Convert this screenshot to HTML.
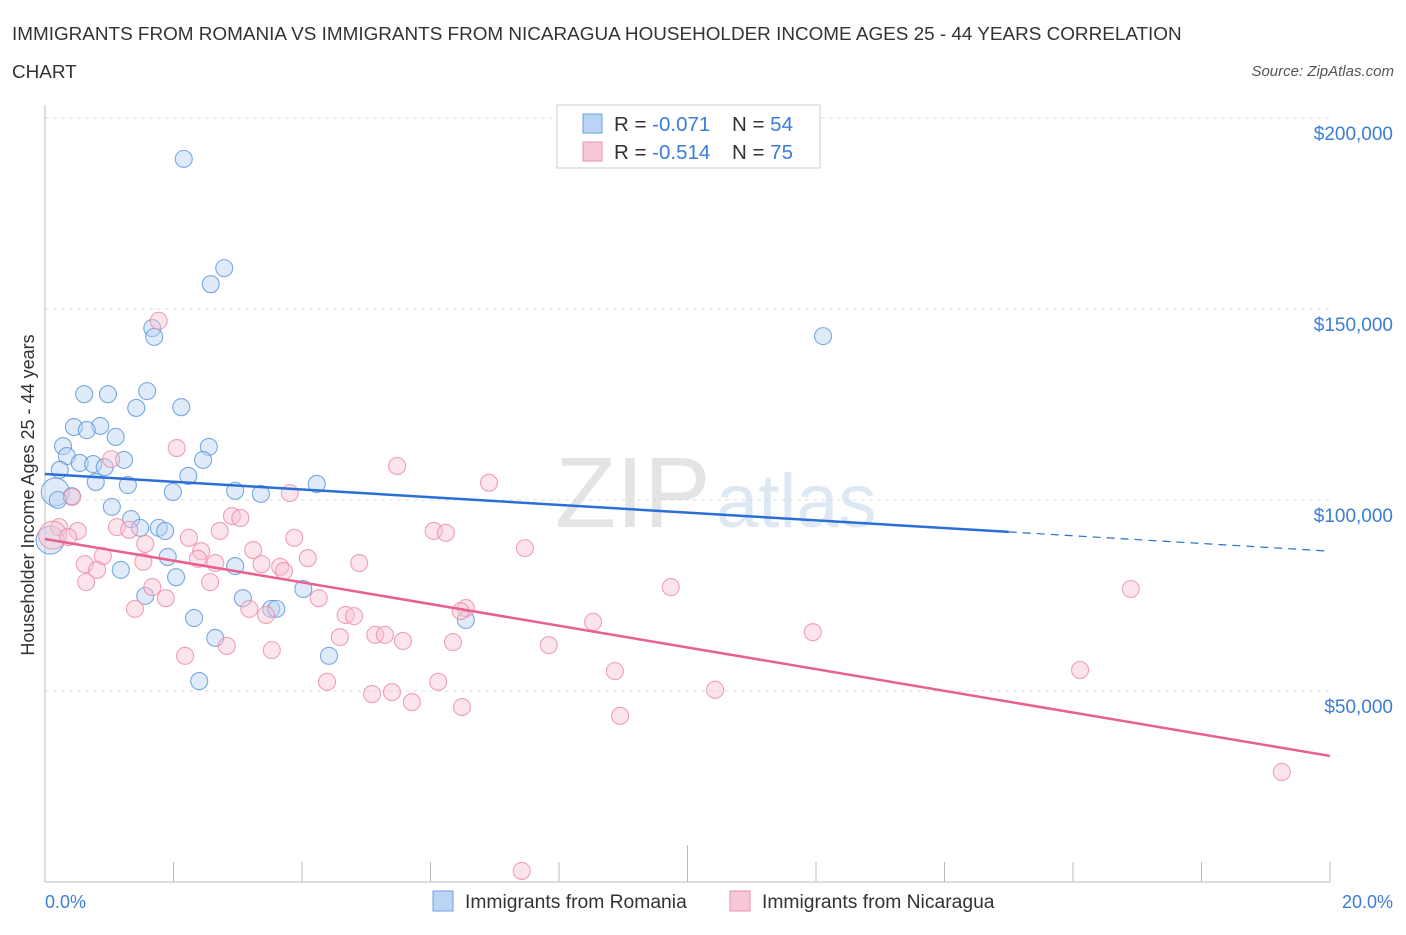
<!DOCTYPE html>
<html><head><meta charset="utf-8"><style>
body{margin:0;background:#fff;font-family:"Liberation Sans",sans-serif;}
svg text{font-family:"Liberation Sans",sans-serif;}
</style></head><body>
<svg width="1406" height="930" viewBox="0 0 1406 930">
<text x="12" y="40" font-size="18.9" fill="#333">IMMIGRANTS FROM ROMANIA VS IMMIGRANTS FROM NICARAGUA HOUSEHOLDER INCOME AGES 25 - 44 YEARS CORRELATION</text>
<text x="12" y="78" font-size="18.9" fill="#333">CHART</text>
<text x="1394" y="76" font-size="15" fill="#555" font-style="italic" text-anchor="end">Source: ZipAtlas.com</text>
<text x="555" y="527" font-size="100" fill="#e4e4e4" font-family="Liberation Serif">ZIP</text>
<text x="716" y="527" font-size="76" fill="#dde8f4">atlas</text>
<g id="grid"></g>
<g id="axes"></g>
<g id="pts"></g>
<g id="lines"></g>
<text transform="translate(34,495) rotate(-90)" font-size="18" fill="#333" text-anchor="middle">Householder Income Ages 25 - 44 years</text>
<text x="45" y="908" font-size="18" fill="#3b7dd8">0.0%</text>
<text x="1393" y="908" font-size="18" fill="#3b7dd8" text-anchor="end">20.0%</text>
<g>
<rect x="557" y="105" width="263" height="63" fill="#fff" stroke="#ccc"/>
<rect x="583" y="114" width="19" height="19" fill="#bcd4f4" stroke="#6a9fe0"/>
<rect x="583" y="142" width="19" height="19" fill="#f9c8d6" stroke="#ec8fab"/>
<text x="614" y="131" font-size="20.5" fill="#333">R = <tspan fill="#3b7dd8">-0.071</tspan><tspan x="732">N = </tspan><tspan fill="#3b7dd8">54</tspan></text>
<text x="614" y="159" font-size="20.5" fill="#333">R = <tspan fill="#3b7dd8">-0.514</tspan><tspan x="732">N = </tspan><tspan fill="#3b7dd8">75</tspan></text>
</g>
<g>
<rect x="433" y="891" width="20" height="20" fill="#bcd4f4" stroke="#6a9fe0"/>
<text x="465" y="908" font-size="19.3" fill="#333">Immigrants from Romania</text>
<rect x="730" y="891" width="20" height="20" fill="#f9c8d6" stroke="#ec8fab"/>
<text x="762" y="908" font-size="19.3" fill="#333">Immigrants from Nicaragua</text>
</g>
</svg>
<script>
const yTicks=[50,100,150,200];
const yTickLabels=["$50,000","$100,000","$150,000","$200,000"];
const xTicks=[0,2,4,6,8,10,12,14,16,18,20];
const romaniaX=[2.16,2.79,2.58,1.67,1.70,12.11,0.61,0.98,1.59,1.42,2.12,0.28,0.45,0.86,0.65,1.10,2.55,0.34,0.54,0.75,0.93,1.23,2.46,0.23,2.23,0.79,1.29,4.23,0.16,1.99,2.96,3.36,0.42,1.04,1.34,1.48,1.77,1.87,0.08,1.91,1.18,2.96,2.04,1.56,3.08,4.02,3.52,3.60,2.32,6.55,2.65,4.42,2.40,0.2];
const romaniaY=[189.3,160.7,156.5,145,142.7,142.9,127.7,127.7,128.5,124.1,124.3,114.1,119.1,119.4,118.3,116.5,113.9,111.5,109.7,109.4,108.6,110.5,110.5,107.9,106.3,104.7,103.9,104.2,102.1,102.1,102.4,101.6,101.0,98.2,95.0,92.7,92.7,91.9,89.5,85.1,81.7,82.7,79.8,74.9,74.3,76.7,71.5,71.5,69.1,68.6,63.9,59.2,52.6,100];
const romaniaBig=[0,0,0,0,0,0,0,0,0,0,0,0,0,0,0,0,0,0,0,0,0,0,0,0,0,0,0,0,1,0,0,0,0,0,0,0,0,0,1,0,0,0,0,0,0,0,0,0,0,0,0,0,0,0];
const nicaraguaX=[1.77,2.05,5.48,6.91,1.03,0.42,3.81,2.91,3.04,1.12,0.22,0.51,2.72,6.05,6.24,1.31,0.12,0.36,2.24,3.88,1.56,7.47,0.90,2.43,3.24,4.09,0.62,1.53,2.65,3.37,3.66,4.89,2.38,0.81,3.72,0.64,2.57,1.67,9.74,16.90,1.88,4.26,1.40,3.18,3.44,4.68,4.81,6.55,6.47,8.53,5.14,5.29,4.59,5.57,6.35,11.95,7.84,2.83,2.18,3.53,8.87,16.11,4.39,6.12,10.43,5.09,5.40,5.71,6.49,8.95,19.25,7.42];
const nicaraguaY=[146.9,113.6,108.9,104.5,110.7,100.8,101.8,95.8,95.3,92.9,92.9,91.9,91.9,91.9,91.4,92.2,90.8,90.3,90.1,90.1,88.5,87.4,85.3,86.6,86.9,84.8,83.2,83.8,83.5,83.2,82.5,83.5,84.6,81.7,81.4,78.5,78.5,77.2,77.2,76.7,74.3,74.3,71.5,71.5,69.9,69.9,69.6,71.7,70.9,68.1,64.7,64.7,64.1,63.1,62.8,65.4,62.0,61.8,59.2,60.7,55.2,55.5,52.4,52.4,50.3,49.2,49.7,47.1,45.8,43.5,28.8,2.9];
const romaniaTrend=[106.8,86.6];
const nicaraguaTrend=[89.8,33.0];
const NS="http://www.w3.org/2000/svg";
function sx(v){return 45+v/20*1285;}
function sy(v){return 882-v/50*191;}
function mk(tag,attrs,parent){const e=document.createElementNS(NS,tag);for(const k in attrs)e.setAttribute(k,attrs[k]);document.getElementById(parent).appendChild(e);return e;}
yTicks.forEach((t,i)=>{
 const l=mk('line',{x1:45,x2:1330,y1:sy(t),y2:sy(t),stroke:'#ddd','stroke-dasharray':'4,4'},'grid');
 
 
 const tx=mk('text',{x:1393,y:sy(t)+22,'font-size':19,fill:'#3b7dd8','text-anchor':'end'},'grid');
 tx.textContent=yTickLabels[i];
 
 
});
const ax=mk('line',{x1:45,x2:45,y1:105,y2:882,stroke:'#bbb'},'axes');


const bx=mk('line',{x1:45,x2:1330,y1:882,y2:882,stroke:'#bbb'},'axes');


xTicks.forEach(t=>{
 const e=mk('line',{x1:sx(t),x2:sx(t),y1:t===10?845:862,y2:882,stroke:'#bbb'},'axes');
 
 
});
function pts(X,Y,B,fill,stroke,name){
 X.forEach((x,i)=>{
  const c=mk('circle',{cx:sx(x),cy:sy(Y[i]),r:B&&B[i]?14:8.5,fill:fill,'fill-opacity':0.45,stroke:stroke,'stroke-opacity':0.8,'stroke-width':1.1},'pts');
  
  
 });
}
pts(romaniaX,romaniaY,romaniaBig,'#b8d2f2','#5b93dc','romania-point');
const nb=nicaraguaX.map((x,i)=>i===16?1:0);
pts(nicaraguaX,nicaraguaY,nb,'#f8c4d3','#ec8aa8','nicaragua-point');
const rs=t=>romaniaTrend[0]+(romaniaTrend[1]-romaniaTrend[0])*t/20;
const l1=mk('line',{x1:sx(0),y1:sy(rs(0)),x2:sx(15),y2:sy(rs(15)),stroke:'#2a6fd6','stroke-width':2.5},'lines');


const l2=mk('line',{x1:sx(15),y1:sy(rs(15)),x2:sx(20),y2:sy(rs(20)),stroke:'#2a6fd6','stroke-width':1.2,'stroke-dasharray':'8,6'},'lines');


const l3=mk('line',{x1:sx(0),y1:sy(nicaraguaTrend[0]),x2:sx(20),y2:sy(nicaraguaTrend[1]),stroke:'#e8608e','stroke-width':2.5},'lines');


</script>
</body></html>
